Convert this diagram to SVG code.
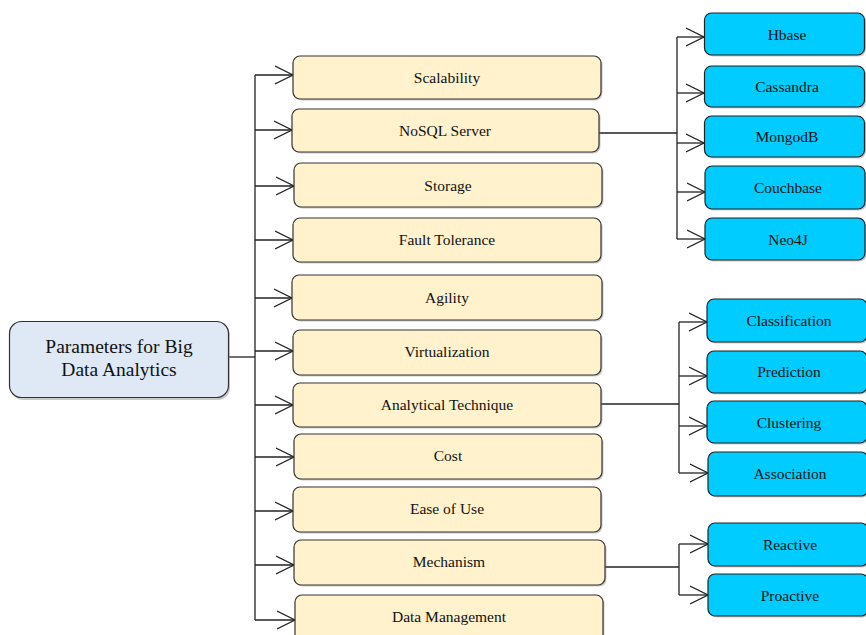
<svg xmlns="http://www.w3.org/2000/svg" width="866" height="635" viewBox="0 0 866 635">
  <style>
    .root { fill: #DEE9F5; stroke: #333; stroke-width: 1.2; }
    .param { fill: #FFF2CC; stroke: #333; stroke-width: 1.2; }
    .leaf { fill: #00CCFF; stroke: #222; stroke-width: 1.2; }
    .shadow { fill: #8a8a8a; opacity: 0.45; }
    text { font-family: "Liberation Serif", "Times New Roman", serif; fill: #111; text-anchor: middle; }
    .t1 { font-size: 19.5px; }
    .t2 { font-size: 15.5px; }
    .wire { fill: none; stroke: #222; stroke-width: 1.3; }
  </style>
  <defs>
    <marker id="arr" markerWidth="20" markerHeight="22" refX="18" refY="10" orient="auto" markerUnits="userSpaceOnUse">
      <path d="M0,1 L18,10 L0,19" fill="none" stroke="#222" stroke-width="1.3"/>
    </marker>
  </defs>

  <!-- connectors -->
  <g id="connectors" class="wire">
    <path d="M229,357 H255"/>
    <path d="M255,75 V620"/>
    <path d="M255,75 H293" marker-end="url(#arr)"/>
    <path d="M255,130 H292" marker-end="url(#arr)"/>
    <path d="M255,186 H294" marker-end="url(#arr)"/>
    <path d="M255,240 H293" marker-end="url(#arr)"/>
    <path d="M255,298 H292" marker-end="url(#arr)"/>
    <path d="M255,351 H293" marker-end="url(#arr)"/>
    <path d="M255,405 H293" marker-end="url(#arr)"/>
    <path d="M255,457 H294" marker-end="url(#arr)"/>
    <path d="M255,511 H293" marker-end="url(#arr)"/>
    <path d="M255,565 H294" marker-end="url(#arr)"/>
    <path d="M255,620 H295" marker-end="url(#arr)"/>

    <!-- NoSQL Server branch -->
    <path d="M598,133 H677"/>
    <path d="M677,37 V239"/>
    <path d="M677,37 H704" marker-end="url(#arr)"/>
    <path d="M677,93 H704" marker-end="url(#arr)"/>
    <path d="M677,143 H704" marker-end="url(#arr)"/>
    <path d="M677,192 H705" marker-end="url(#arr)"/>
    <path d="M677,239 H705" marker-end="url(#arr)"/>

    <!-- Analytical Technique branch -->
    <path d="M600,404 H679"/>
    <path d="M679,322 V473"/>
    <path d="M679,322 H707" marker-end="url(#arr)"/>
    <path d="M679,376 H707" marker-end="url(#arr)"/>
    <path d="M679,426 H707" marker-end="url(#arr)"/>
    <path d="M679,473 H708" marker-end="url(#arr)"/>

    <!-- Mechanism branch -->
    <path d="M605,567 H679"/>
    <path d="M679,544 V595"/>
    <path d="M679,544 H708" marker-end="url(#arr)"/>
    <path d="M679,595 H708" marker-end="url(#arr)"/>
  </g>

  <!-- root -->
  <g id="root">
    <rect class="shadow" x="11" y="323" width="219" height="77" rx="12"/>
    <rect class="root" x="9.5" y="321.5" width="219" height="76" rx="12"/>
    <text class="t1" x="119" y="353">Parameters for Big</text>
    <text class="t1" x="119" y="376">Data Analytics</text>
  </g>

  <!-- parameters -->
  <g id="scalability">
    <rect class="shadow" x="294.5" y="57.5" width="308" height="43" rx="7"/>
    <rect class="param" x="293" y="56" width="308" height="43" rx="7"/>
    <text class="t2" x="447" y="82.5">Scalability</text>
  </g>
  <g id="nosql-server">
    <rect class="shadow" x="293.5" y="110.5" width="307" height="43" rx="7"/>
    <rect class="param" x="292" y="109" width="307" height="43" rx="7"/>
    <text class="t2" x="445" y="135.5">NoSQL Server</text>
  </g>
  <g id="storage">
    <rect class="shadow" x="295.5" y="164.5" width="308" height="44" rx="7"/>
    <rect class="param" x="294" y="163" width="308" height="44" rx="7"/>
    <text class="t2" x="448" y="190.5">Storage</text>
  </g>
  <g id="fault-tolerance">
    <rect class="shadow" x="294.5" y="219.5" width="308" height="44" rx="7"/>
    <rect class="param" x="293" y="218" width="308" height="44" rx="7"/>
    <text class="t2" x="447" y="245">Fault Tolerance</text>
  </g>
  <g id="agility">
    <rect class="shadow" x="293.5" y="276.5" width="310" height="45" rx="7"/>
    <rect class="param" x="292" y="275" width="310" height="45" rx="7"/>
    <text class="t2" x="447" y="302.5">Agility</text>
  </g>
  <g id="virtualization">
    <rect class="shadow" x="294.5" y="331.5" width="308" height="45" rx="7"/>
    <rect class="param" x="293" y="330" width="308" height="45" rx="7"/>
    <text class="t2" x="447" y="357">Virtualization</text>
  </g>
  <g id="analytical-technique">
    <rect class="shadow" x="294.5" y="384.5" width="308" height="44" rx="7"/>
    <rect class="param" x="293" y="383" width="308" height="44" rx="7"/>
    <text class="t2" x="447" y="410">Analytical Technique</text>
  </g>
  <g id="cost">
    <rect class="shadow" x="295.5" y="435.5" width="308" height="45" rx="7"/>
    <rect class="param" x="294" y="434" width="308" height="45" rx="7"/>
    <text class="t2" x="448" y="461">Cost</text>
  </g>
  <g id="ease-of-use">
    <rect class="shadow" x="294.5" y="488.5" width="308" height="45" rx="7"/>
    <rect class="param" x="293" y="487" width="308" height="45" rx="7"/>
    <text class="t2" x="447" y="514">Ease of Use</text>
  </g>
  <g id="mechanism">
    <rect class="shadow" x="295.5" y="541.5" width="311" height="45" rx="7"/>
    <rect class="param" x="294" y="540" width="311" height="45" rx="7"/>
    <text class="t2" x="449" y="567">Mechanism</text>
  </g>
  <g id="data-management">
    <rect class="shadow" x="296.5" y="596.5" width="308" height="48" rx="7"/>
    <rect class="param" x="295" y="595" width="308" height="48" rx="7"/>
    <text class="t2" x="449" y="622">Data Management</text>
  </g>

  <!-- NoSQL servers -->
  <g id="hbase">
    <rect class="shadow" x="706" y="14.5" width="160" height="42" rx="7"/>
    <rect class="leaf" x="704.5" y="13" width="160" height="42" rx="7"/>
    <text class="t2" x="787" y="39.5">Hbase</text>
  </g>
  <g id="cassandra">
    <rect class="shadow" x="706" y="67.5" width="160" height="41" rx="7"/>
    <rect class="leaf" x="704.5" y="66" width="160" height="41" rx="7"/>
    <text class="t2" x="787" y="92">Cassandra</text>
  </g>
  <g id="mongodb">
    <rect class="shadow" x="706" y="117.5" width="160" height="41" rx="7"/>
    <rect class="leaf" x="704.5" y="116" width="160" height="41" rx="7"/>
    <text class="t2" x="787" y="142">MongodB</text>
  </g>
  <g id="couchbase">
    <rect class="shadow" x="706.5" y="167.5" width="160" height="43" rx="7"/>
    <rect class="leaf" x="705" y="166" width="160" height="43" rx="7"/>
    <text class="t2" x="788" y="193">Couchbase</text>
  </g>
  <g id="neo4j">
    <rect class="shadow" x="706.5" y="219.5" width="160" height="42" rx="7"/>
    <rect class="leaf" x="705" y="218" width="160" height="42" rx="7"/>
    <text class="t2" x="788" y="244.5">Neo4J</text>
  </g>

  <!-- analytical techniques -->
  <g id="classification">
    <rect class="shadow" x="708.5" y="300.5" width="160" height="43" rx="7"/>
    <rect class="leaf" x="707" y="299" width="160" height="43" rx="7"/>
    <text class="t2" x="789" y="326">Classification</text>
  </g>
  <g id="prediction">
    <rect class="shadow" x="708.5" y="352.5" width="160" height="42" rx="7"/>
    <rect class="leaf" x="707" y="351" width="160" height="42" rx="7"/>
    <text class="t2" x="789" y="377">Prediction</text>
  </g>
  <g id="clustering">
    <rect class="shadow" x="708.5" y="402.5" width="160" height="42" rx="7"/>
    <rect class="leaf" x="707" y="401" width="160" height="42" rx="7"/>
    <text class="t2" x="789" y="428">Clustering</text>
  </g>
  <g id="association">
    <rect class="shadow" x="709.5" y="453.5" width="160" height="44" rx="7"/>
    <rect class="leaf" x="708" y="452" width="160" height="44" rx="7"/>
    <text class="t2" x="790" y="479">Association</text>
  </g>

  <!-- mechanisms -->
  <g id="reactive">
    <rect class="shadow" x="709.5" y="524.5" width="160" height="43" rx="7"/>
    <rect class="leaf" x="708" y="523" width="160" height="43" rx="7"/>
    <text class="t2" x="790" y="550">Reactive</text>
  </g>
  <g id="proactive">
    <rect class="shadow" x="709.5" y="575.5" width="160" height="42" rx="7"/>
    <rect class="leaf" x="708" y="574" width="160" height="42" rx="7"/>
    <text class="t2" x="790" y="601">Proactive</text>
  </g>
</svg>
